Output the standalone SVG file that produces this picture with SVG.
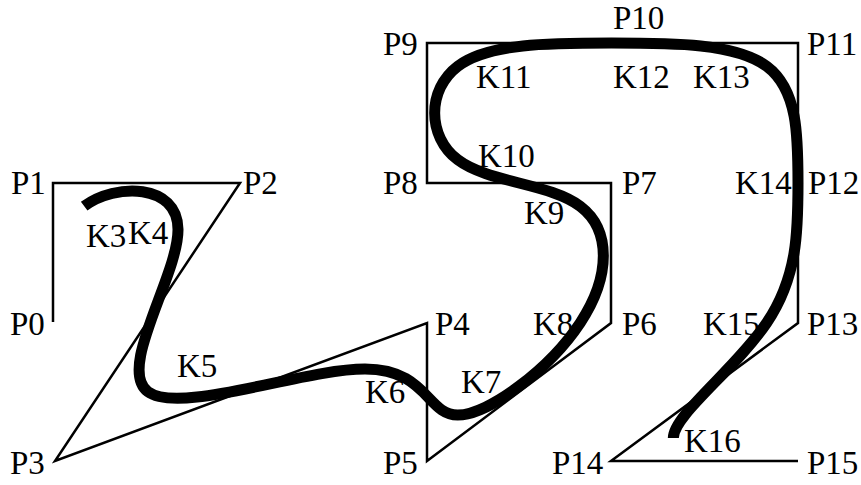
<svg xmlns="http://www.w3.org/2000/svg" width="861" height="485" viewBox="0 0 861 485">
<style>
.poly{fill:none;stroke:#000;stroke-width:2.5;stroke-linejoin:miter}
.curve{fill:none;stroke:#000;stroke-width:11;stroke-linecap:butt;stroke-linejoin:round}
text{font-family:"Liberation Serif","Times New Roman","DejaVu Serif",serif;font-size:33px;fill:#000}
</style>
<rect width="861" height="485" fill="#fff"/>
<g id="connectors">
<polyline id="control-polygon" class="poly" points="53,322 53,183 240,183 55,461 427,323 427,461 611,323 611,183 427,183 427,43 611,43 798,43 798,183 798,323 611,461 798,461"/>
<path id="bspline" class="curve" d="M84.17,206.17 C115.33,183 177.67,183 178,229.33 C178.33,275.67 116.67,368.33 147.83,391.67 C179,415 303,369 365,369 C427,369 427,415 457.67,415 C488.33,415 549.67,369 580.33,322.67 C611,276.33 611,229.67 580.33,206.33 C549.67,183 488.33,183 457.67,159.67 C427,136.33 427,89.67 457.67,66.33 C488.33,43 549.67,43 611.5,43 C673.33,43 735.67,43 766.83,66.33 C798,89.67 798,136.33 798,183 C798,229.67 798,276.33 766.83,322.67 C735.67,369 673.33,415 673.33,438"/>
</g>
<g id="labels-P">
<text id="P0" x="10" y="335">P0</text>
<text id="P1" x="11" y="194">P1</text>
<text id="P2" x="243" y="194">P2</text>
<text id="P3" x="10" y="474">P3</text>
<text id="P4" x="435" y="335">P4</text>
<text id="P5" x="383" y="474">P5</text>
<text id="P6" x="622" y="335">P6</text>
<text id="P7" x="622" y="194">P7</text>
<text id="P8" x="383" y="194">P8</text>
<text id="P9" x="383" y="55">P9</text>
<text id="P10" x="613" y="29">P10</text>
<text id="P11" x="807" y="55">P11</text>
<text id="P12" x="808" y="194">P12</text>
<text id="P13" x="807" y="335">P13</text>
<text id="P14" x="552" y="474">P14</text>
<text id="P15" x="807" y="474">P15</text>
</g>
<g id="labels-K">
<text id="K3" x="86" y="247">K3</text>
<text id="K4" x="128" y="244">K4</text>
<text id="K5" x="177" y="377">K5</text>
<text id="K6" x="365" y="403">K6</text>
<text id="K7" x="461" y="393">K7</text>
<text id="K8" x="533" y="335">K8</text>
<text id="K9" x="524" y="224">K9</text>
<text id="K10" x="478" y="167">K10</text>
<text id="K11" x="476" y="88">K11</text>
<text id="K12" x="613" y="88">K12</text>
<text id="K13" x="693" y="88">K13</text>
<text id="K14" x="735" y="194">K14</text>
<text id="K15" x="703" y="335">K15</text>
<text id="K16" x="684" y="452">K16</text>
</g>
</svg>
